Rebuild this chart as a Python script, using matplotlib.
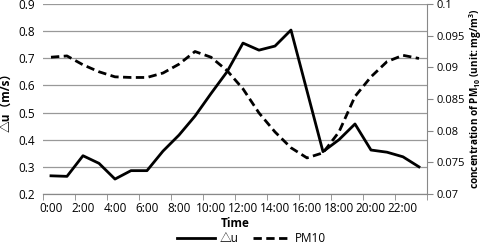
import matplotlib.pyplot as plt
import numpy as np

plt.rcParams['font.family'] = ['Open Sans', 'Noto Sans CJK SC', 'DejaVu Sans']
plt.rcParams['mathtext.fontset'] = 'custom'
plt.rcParams['mathtext.bf'] = 'Open Sans:bold'
plt.rcParams['mathtext.rm'] = 'Open Sans'

hours = list(range(24))
hour_labels = ['%d:00' % h for h in range(0, 24, 2)]
du = [0.267, 0.265, 0.341, 0.313, 0.255, 0.286, 0.286, 0.358, 0.417, 0.487,
      0.57, 0.65, 0.756, 0.73, 0.745, 0.804, 0.58, 0.356, 0.40, 0.458,
      0.362, 0.354, 0.337, 0.30]
pm10 = [0.0916, 0.0918, 0.0904, 0.0893, 0.0885, 0.0884, 0.0884, 0.0891, 0.0905, 0.0925,
        0.0916, 0.0895, 0.0866, 0.0828, 0.0798, 0.0773, 0.0757, 0.0765, 0.0798, 0.0854,
        0.0885, 0.0909, 0.0919, 0.0914]

fig = plt.figure(figsize=(4.84, 2.47), dpi=100)
ax = fig.add_axes([0.0888, 0.2146, 0.7934, 0.7692])
ax2 = ax.twinx()

l1, = ax.plot(hours, du, color='black', lw=2.0, label='△u')
l2, = ax2.plot(hours, pm10, color='black', lw=2.0, ls=(0, (3, 1.6)), label='PM10')

ax.set_xlim(-0.5, 23.5)
ax.set_ylim(0.2, 0.9)
ax.set_yticks(np.arange(0.2, 0.91, 0.1))
ax.set_yticklabels(['%.1f' % v for v in np.arange(0.2, 0.91, 0.1)])
ax2.set_ylim(0.07, 0.1)
ax2.set_yticks([0.07, 0.075, 0.08, 0.085, 0.09, 0.095, 0.1])
ax2.set_yticklabels(['0.07', '0.075', '0.08', '0.085', '0.09', '0.095', '0.1'])

ax.set_xticks(range(0, 24, 2))
ax.set_xticklabels(hour_labels)
ax.set_xticks(np.arange(-0.5, 24, 2), minor=True)
ax.tick_params(axis='x', which='major', length=0, labelsize=8.5, pad=6)
ax.tick_params(axis='x', which='minor', length=4, color='#888888')
ax.tick_params(axis='y', length=0, labelsize=8.5, pad=6)
ax2.tick_params(axis='y', length=4, color='#888888', labelsize=8, pad=3)

ax.grid(axis='y', color='#999999', lw=0.9)
ax.set_axisbelow(True)
for a in (ax, ax2):
    a.spines['top'].set_visible(False)
    a.spines['left'].set_visible(False)
    a.spines['right'].set_visible(False)
    a.spines['bottom'].set_color('#888888')
ax2.spines['right'].set_visible(True)
ax2.spines['right'].set_color('#888888')

ax.set_xlabel('Time', fontsize=8.5, fontweight='bold', labelpad=1)
ax.set_ylabel('△u（m/s）', fontsize=8.5, fontweight='bold', labelpad=4)
ax2.set_ylabel(r'concentration of PM$_{\mathbf{10}}$ (unit: mg/m$^{\mathbf{3}}$)', fontsize=7.2,
               fontweight='bold', va='center')
ax2.yaxis.set_label_coords(1.127, 0.5)

fig.legend([l1, l2], ['△u', 'PM10'], loc='lower center', bbox_to_anchor=(0.52, -0.035),
           ncol=2, frameon=False, fontsize=8.5, handlelength=3.2, columnspacing=1.2, handletextpad=0.4)

fig.savefig('out.png', dpi=100)
